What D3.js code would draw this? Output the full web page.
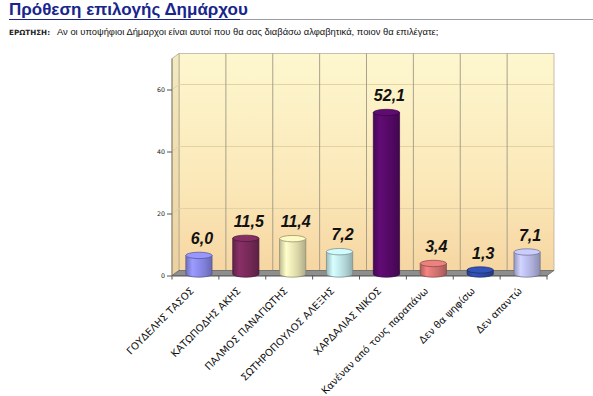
<!DOCTYPE html>
<html><head><meta charset="utf-8">
<script src="https://cdn.jsdelivr.net/npm/d3@7"></script>
<style>body{margin:0;background:#fff}svg{display:block}</style>
</head><body>
<script>
const categories = ["ΓΟΥΔΕΛΗΣ ΤΑΣΟΣ","ΚΑΤΩΠΟΔΗΣ ΑΚΗΣ","ΠΑΛΜΟΣ ΠΑΝΑΓΙΩΤΗΣ","ΣΩΤΗΡΟΠΟΥΛΟΣ ΑΛΕΞΗΣ","ΧΑΡΔΑΛΙΑΣ ΝΙΚΟΣ","Κανέναν από τους παραπάνω","Δεν θα ψηφίσω","Δεν απαντώ"];
const values = [6.0, 11.5, 11.4, 7.2, 52.1, 3.4, 1.3, 7.1];
const valueLabels = ["6,0","11,5","11,4","7,2","52,1","3,4","1,3","7,1"];
const barColors = ["#8f8ff2","#7e2c5e","#f1edba","#c6eef0","#5a0a6c","#e07a78","#2f4fb0","#c0c2f2"];
const yTicks = [0,20,40,60];
const title = "Πρόθεση επιλογής Δημάρχου";
const qLabel = "ΕΡΩΤΗΣΗ:";
const question = "Αν οι υποψήφιοι Δήμαρχοι είναι αυτοί που θα σας διαβάσω αλφαβητικά, ποιον θα επιλέγατε;";

const W = 593, H = 396;
const svg = d3.select("body").append("svg").attr("width", W).attr("height", H);
const defs = svg.append("defs");

// header
svg.append("text").attr("x", 9).attr("y", 15).text(title)
  .attr("font-family","Liberation Sans, Arial, sans-serif").attr("font-weight","bold")
  .attr("font-size",17).attr("fill","#17258c");
svg.append("line").attr("x1",9).attr("x2",W).attr("y1",19.5).attr("y2",19.5)
  .attr("stroke","#9a9aa8").attr("stroke-width",1);
svg.append("line").attr("x1",9).attr("x2",240).attr("y1",19.5).attr("y2",19.5)
  .attr("stroke","#17258c").attr("stroke-width",1.2);
svg.append("text").attr("x", 9).attr("y", 35).text(qLabel)
  .attr("font-family","DejaVu Sans, sans-serif").attr("font-weight","bold")
  .attr("font-size",7.2).attr("fill","#222");
svg.append("text").attr("x", 57).attr("y", 35).text(question)
  .attr("font-family","Liberation Sans, Arial, sans-serif")
  .attr("font-size",9.4).attr("fill","#111");

// scales
const x0 = 172, x1 = 547, dx = 7, dy = -5;
const x = d3.scaleBand().domain(categories).range([x0, x1]).paddingInner(0.44).paddingOuter(0.22);
const y = d3.scaleLinear().domain([0, 70]).range([275.5, 58.5]);
const step = x.step();

// back wall gradient
const bg = defs.append("linearGradient").attr("id","wall").attr("x1",0).attr("x2",0).attr("y1",0).attr("y2",1);
bg.append("stop").attr("offset","0%").attr("stop-color","#fdf7cf");
bg.append("stop").attr("offset","60%").attr("stop-color","#fbe8b8");
bg.append("stop").attr("offset","100%").attr("stop-color","#f6d6a2");
const lg = defs.append("linearGradient").attr("id","lwall").attr("x1",0).attr("x2",0).attr("y1",0).attr("y2",1);
lg.append("stop").attr("offset","0%").attr("stop-color","#f3eac0");
lg.append("stop").attr("offset","100%").attr("stop-color","#ecd0a0");

const yTop = y.range()[1];
svg.append("rect").attr("x", x0+dx).attr("y", yTop+dy).attr("width", x1-x0).attr("height", y(0)-yTop)
  .attr("fill","url(#wall)").attr("stroke","#b8b09a").attr("stroke-width",0.8);
svg.append("polygon").attr("points", [[x0,yTop],[x0+dx,yTop+dy],[x0+dx,y(0)+dy],[x0,y(0)]].join(" "))
  .attr("fill","url(#lwall)").attr("stroke","#b0a890").attr("stroke-width",0.8);

// horizontal gridlines
yTicks.filter(t=>t>0).forEach(t=>{
  svg.append("line").attr("x1",x0+dx).attr("x2",x1+dx).attr("y1",y(t)+dy).attr("y2",y(t)+dy)
    .attr("stroke","#e2d2a6").attr("stroke-width",1);
  svg.append("line").attr("x1",x0).attr("x2",x0+dx).attr("y1",y(t)).attr("y2",y(t)+dy)
    .attr("stroke","#e2d2a6").attr("stroke-width",1);
});
// vertical gridlines on back wall
d3.range(1, categories.length).forEach(i=>{
  const xx = x0 + dx + i*step;
  svg.append("line").attr("x1",xx).attr("x2",xx).attr("y1",yTop+dy).attr("y2",y(0)+dy)
    .attr("stroke","#9e9884").attr("stroke-width",0.9);
});

// floor
svg.append("polygon").attr("points", [[x0,y(0)],[x1,y(0)],[x1+dx,y(0)+dy],[x0+dx,y(0)+dy]].join(" "))
  .attr("fill","#8e8e8e").attr("stroke","#5e5e5e").attr("stroke-width",0.7);

// axes
svg.append("line").attr("x1",x0).attr("x2",x0).attr("y1",yTop).attr("y2",y(0))
  .attr("stroke","#8a8470").attr("stroke-width",1);
const yAxis = d3.axisLeft(y).tickValues(yTicks).tickSize(5).tickPadding(2);
const ya = svg.append("g").attr("transform",`translate(${x0},0)`).call(yAxis);
ya.select(".domain").remove();
ya.selectAll("text").attr("font-family","DejaVu Sans, sans-serif").attr("font-size",6.3).attr("fill","#222");
ya.selectAll("line").attr("stroke","#555");

const xAxis = d3.axisBottom(x).tickSize(0).tickFormat("");
const xa = svg.append("g").attr("transform",`translate(0,${y(0)})`).call(xAxis);
xa.select(".domain").attr("stroke","#555");
d3.range(0, categories.length+1).forEach(i=>{
  const xx = x0 + i*step;
  svg.append("line").attr("x1",xx).attr("x2",xx).attr("y1",y(0)).attr("y2",y(0)+4).attr("stroke","#555");
});

// x labels
svg.append("g").selectAll("text").data(categories).join("text")
  .attr("transform", d => `translate(${x(d)+x.bandwidth()/2-1},${y(0)+16}) rotate(-45)`)
  .attr("text-anchor","end")
  .attr("font-family","DejaVu Sans, sans-serif").attr("font-size",10).attr("fill","#111")
  .text(d=>d);

// cylinders
const ry = 3.2, bo = 3.5, bdy = -1.5;
categories.forEach((c,i)=>{
  const col = d3.color(barColors[i]);
  const g = defs.append("linearGradient").attr("id","bar"+i);
  const st = [[0,col.darker(0.7)],[0.25,col.brighter(0.25)],[0.45,col],[0.7,col.darker(0.3)],[1,col.darker(0.9)]];
  st.forEach(s=>g.append("stop").attr("offset",s[0]).attr("stop-color",s[1]));
  const bw = x.bandwidth(), rx = bw/2;
  const l = x(c)+bo, r = l+bw, cx = l+rx;
  const yb = y(0)+bdy, yt = y(values[i])+bdy;
  svg.append("path")
    .attr("d",`M${l},${yt} L${l},${yb} A${rx},${ry} 0 0 0 ${r},${yb} L${r},${yt} Z`)
    .attr("fill",`url(#bar${i})`).attr("stroke",col.darker(1.6)).attr("stroke-width",0.7);
  svg.append("ellipse").attr("cx",cx).attr("cy",yt).attr("rx",rx).attr("ry",ry)
    .attr("fill",col.brighter(0.15)).attr("stroke",col.darker(1.6)).attr("stroke-width",0.7);
  svg.append("text").attr("x",cx+3).attr("y",yt-ry-8).attr("text-anchor","middle")
    .attr("font-family","Liberation Sans, Arial, sans-serif").attr("font-weight","bold")
    .attr("font-style","italic").attr("font-size",16).attr("fill","#111")
    .text(valueLabels[i]);
});
</script>
</body></html>
